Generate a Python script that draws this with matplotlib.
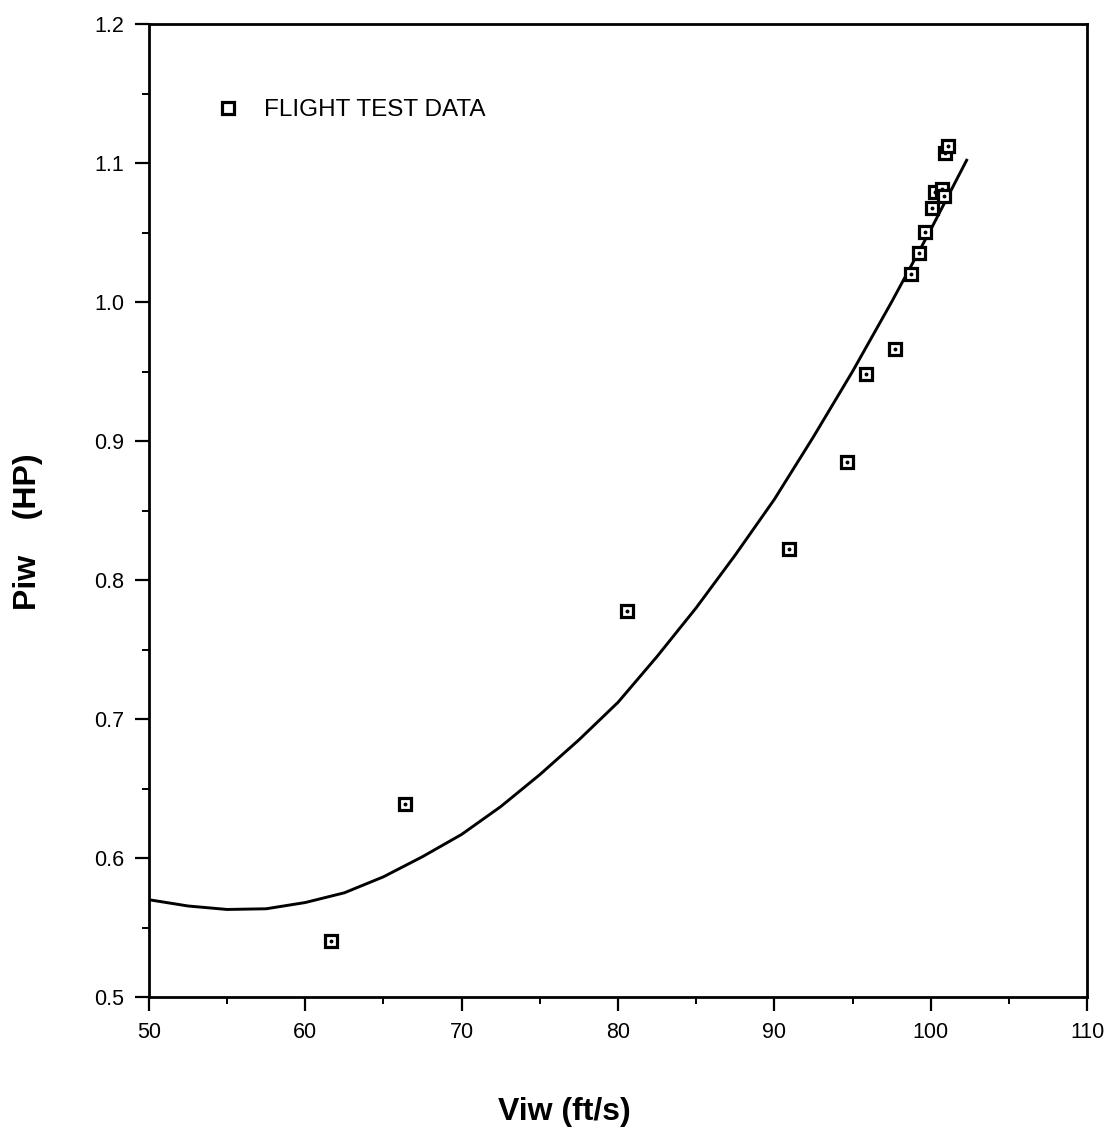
import matplotlib
matplotlib.use('Agg')
import matplotlib.pyplot as plt
from matplotlib.ticker import MultipleLocator, FormatStrFormatter
import numpy as np

plt.rcParams['font.family'] = ['Liberation Sans', 'DejaVu Sans']

# flight test points: induced power vs. airspeed
test_v = [61.64, 66.38, 80.58, 90.94, 94.65, 95.86, 97.72, 98.74, 99.25, 99.64,
          100.09, 100.28, 100.73, 100.85, 100.92, 101.11]
test_p = [0.540, 0.639, 0.778, 0.822, 0.885, 0.948, 0.966, 1.020, 1.035, 1.0505,
          1.068, 1.079, 1.081, 1.076, 1.107, 1.112]

# predicted curve
pred_v = [50.0, 52.5, 55.0, 57.5, 60.0, 62.5, 65.0, 67.5, 70.0, 72.5, 75.0,
          77.5, 80.0, 82.5, 85.0, 87.5, 90.0, 92.5, 95.0, 97.5, 100.0, 102.3]
pred_p = [0.570, 0.5655, 0.563, 0.5635, 0.568, 0.575, 0.5865, 0.601, 0.617,
          0.637, 0.660, 0.685, 0.712, 0.745, 0.780, 0.818, 0.858, 0.903,
          0.950, 1.000, 1.052, 1.102]

fig = plt.figure(figsize=(11.15, 11.33), dpi=100)
ax = fig.add_axes([0.1336, 0.1200, 0.8413, 0.8588])

ax.plot(pred_v, pred_p, color='black', linewidth=2.1)
ax.plot(test_v, test_p, linestyle='none', marker='s', markersize=9,
        markerfacecolor='white', markeredgecolor='black', markeredgewidth=2.3,
        label='FLIGHT TEST DATA')
ax.plot(test_v, test_p, linestyle='none', marker='o', markersize=1.8,
        color='black')

ax.set_xlim(50, 110)
ax.set_ylim(0.5, 1.2)
ax.xaxis.set_major_locator(MultipleLocator(10))
ax.xaxis.set_minor_locator(MultipleLocator(5))
ax.yaxis.set_major_locator(MultipleLocator(0.1))
ax.yaxis.set_minor_locator(MultipleLocator(0.05))
ax.yaxis.set_major_formatter(FormatStrFormatter('%.1f'))

ax.tick_params(which='major', direction='out', length=10, width=1.6,
               labelsize=15.5, pad=8)
ax.tick_params(which='minor', direction='out', length=5, width=1.4)
for s in ax.spines.values():
    s.set_linewidth(2.0)

ax.set_xlabel('Viw (ft/s)', fontsize=23, fontweight='bold', va='center')
ax.xaxis.set_label_coords(0.443, -0.118)
ax.set_ylabel('Piw    (HP)', fontsize=23, fontweight='bold', va='center')
ax.yaxis.set_label_coords(-0.129, 0.478)

ax.legend(loc='upper left', bbox_to_anchor=(0.0475, 0.945), frameon=False,
          fontsize=17.5, handlelength=1.0, handletextpad=1.0, numpoints=1)

fig.savefig('out.png', dpi=100)
